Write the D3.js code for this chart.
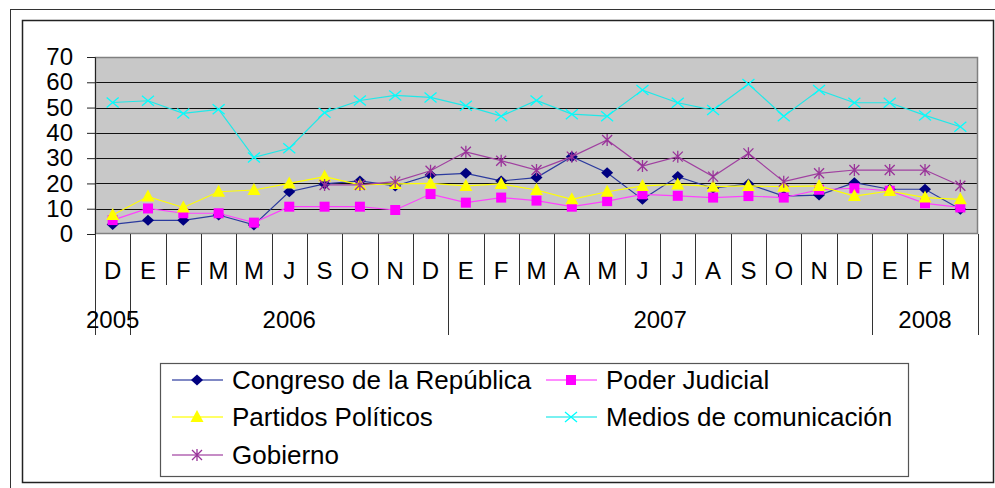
<!DOCTYPE html>
<html>
<head>
<meta charset="utf-8">
<script src="https://cdn.jsdelivr.net/npm/d3@7"></script>
<style>
  body { margin: 0; background: #fff; }
  text { font-family: "Liberation Sans", Arial, sans-serif; fill: #000; }
</style>
</head>
<body>
<script>
// ---- data ----
var months = ["D","E","F","M","M","J","S","O","N","D","E","F","M","A","M","J","J","A","S","O","N","D","E","F","M"];
var years  = ["2005","2006","2006","2006","2006","2006","2006","2006","2006","2006",
              "2007","2007","2007","2007","2007","2007","2007","2007","2007","2007","2007","2007",
              "2008","2008","2008"];
var yTicks = [0, 10, 20, 30, 40, 50, 60, 70];

var congreso = [3.8,5.4,5.4,7.5,3.6,16.7,19.8,21,19,23.3,24,21,22.3,30.6,24.2,13.7,22.7,18.1,19.8,15,15.4,20.3,17.7,17.7,9.8];
var poder    = [5.5,10.1,8.2,8.2,4.5,10.8,10.8,10.8,9.5,15.8,12.4,14.4,13.2,10.8,13,15.7,15.1,14.4,15,14.4,17.5,18.1,17.1,12.1,10.5];
var partidos = [7.5,14.8,10.5,16.7,17.4,20,22.7,19.4,19.8,20,19,19.8,17.4,13.7,16.7,19,19.6,18.7,19,18.7,19,15,17,14.4,13.7];
var medios   = [52,52.7,47.7,49.3,30.3,33.9,48,52.8,54.8,54,50.7,46.6,52.8,47.4,46.6,56.9,51.9,49,59.3,46.6,56.9,51.9,51.9,46.9,42.4];
var gobierno = [null,null,null,null,null,null,19.4,19.4,20.7,25,32.5,29,25.3,30.6,37.2,26.9,30.6,22.7,31.9,20.7,24,25.3,25.3,25.3,19.1];

var seriesNames = ["Congreso de la República","Poder Judicial","Partidos Políticos","Medios de comunicación","Gobierno"];

// ---- layout ----
var W = 995, H = 488;
var plot = {left: 95, right: 978, top: 57, bottom: 234};

var svg = d3.select("body").append("svg")
    .attr("width", W)
    .attr("height", H);

// outer frames
svg.append("rect")
    .attr("x", 10.5).attr("y", 9.5)
    .attr("width", 1000).attr("height", 500)
    .attr("fill", "none").attr("stroke", "#333").attr("stroke-width", 1);
svg.append("rect")
    .attr("x", 22.5).attr("y", 20.5)
    .attr("width", 971).attr("height", 462)
    .attr("fill", "#fff").attr("stroke", "#222").attr("stroke-width", 1.5);

var idx = d3.range(months.length);

var x = d3.scaleBand()
    .domain(idx)
    .range([plot.left, plot.right])
    .padding(0);

var y = d3.scaleLinear()
    .domain([0, 70])
    .range([plot.bottom, plot.top]);

function cx(i) { return x(i) + x.bandwidth() / 2; }

// plot background
svg.append("rect")
    .attr("x", plot.left).attr("y", plot.top)
    .attr("width", plot.right - plot.left)
    .attr("height", plot.bottom - plot.top)
    .attr("fill", "#c8c8c8");

// grid lines
svg.selectAll(".grid")
    .data(yTicks.filter(function(d) { return d > 0 && d < 70; }))
  .enter().append("line")
    .attr("class", "grid")
    .attr("x1", plot.left).attr("x2", plot.right)
    .attr("y1", function(d) { return Math.round(y(d)) + 0.5; })
    .attr("y2", function(d) { return Math.round(y(d)) + 0.5; })
    .attr("stroke", "#111").attr("stroke-width", 1);

// plot border
svg.append("rect")
    .attr("x", plot.left + 0.5).attr("y", plot.top + 0.5)
    .attr("width", plot.right - plot.left - 1)
    .attr("height", plot.bottom - plot.top - 1)
    .attr("fill", "none").attr("stroke", "#808080").attr("stroke-width", 1.5);

// y axis
var yAxis = svg.append("g")
    .attr("transform", "translate(" + plot.left + ",0)")
    .call(d3.axisLeft(y).tickValues(yTicks).tickSize(8).tickPadding(14));
yAxis.select(".domain").attr("stroke", "#222");
yAxis.selectAll(".tick line").attr("stroke", "#222");
yAxis.selectAll("text")
    .style("font-size", "24px")
    .style("font-family", "Liberation Sans, Arial, sans-serif")
    .attr("fill", "#000");

// x axis: month separators
var bounds = d3.range(months.length + 1);
svg.selectAll(".msep")
    .data(bounds)
  .enter().append("line")
    .attr("class", "msep")
    .attr("x1", function(i) { return Math.round(i < months.length ? x(i) : x(i - 1) + x.bandwidth()) + 0.5; })
    .attr("x2", function(i) { return Math.round(i < months.length ? x(i) : x(i - 1) + x.bandwidth()) + 0.5; })
    .attr("y1", plot.bottom)
    .attr("y2", function(i) {
        var isYear = i === 0 || i === months.length || years[i] !== years[i - 1];
        return isYear ? 335 : 285;
    })
    .attr("stroke", "#333").attr("stroke-width", 1);

svg.selectAll(".mlab")
    .data(idx)
  .enter().append("text")
    .attr("class", "mlab")
    .attr("x", function(i) { return cx(i); })
    .attr("y", 279)
    .attr("text-anchor", "middle")
    .style("font-size", "24px")
    .text(function(i) { return months[i]; });

// year labels, centred on their months
var yearGroups = d3.groups(idx, function(i) { return years[i]; });
svg.selectAll(".ylab")
    .data(yearGroups)
  .enter().append("text")
    .attr("class", "ylab")
    .attr("x", function(g) {
        var a = d3.min(g[1]), b = d3.max(g[1]);
        return (x(a) + x(b) + x.bandwidth()) / 2;
    })
    .attr("y", 328)
    .attr("text-anchor", "middle")
    .style("font-size", "24px")
    .text(function(g) { return g[0]; });

// ---- markers ----
function markerPath(type) {
    if (type === "diamond") return "M0,-5.5L6,0L0,5.5L-6,0Z";
    if (type === "square") return "M-5,-5H5V5H-5Z";
    if (type === "triangle") return "M0,-7L6.5,5L-6.5,5Z";
    if (type === "x") return "M-6,-5L6,5M-6,5L6,-5";
    if (type === "star") return "M-5,-5L5,5M-5,5L5,-5M0,-6V6";
    return "";
}

var series = [
    {name: seriesNames[0], values: congreso, color: "#000080", line: "#2b3a9e", marker: "diamond", filled: true},
    {name: seriesNames[1], values: poder,    color: "#ff00ff", line: "#ff40ff", marker: "square",  filled: true},
    {name: seriesNames[2], values: partidos, color: "#ffff00", line: "#ffff00", marker: "triangle", filled: true},
    {name: seriesNames[3], values: medios,   color: "#00ffff", line: "#20e8e8", marker: "x",       filled: false},
    {name: seriesNames[4], values: gobierno, color: "#993399", line: "#a040a0", marker: "star",    filled: false}
];

var line = d3.line()
    .defined(function(d) { return d != null; })
    .x(function(d, i) { return cx(i); })
    .y(function(d) { return y(d); });

series.forEach(function(s) {
    var g = svg.append("g");
    g.append("path")
        .datum(s.values)
        .attr("fill", "none")
        .attr("stroke", s.line)
        .attr("stroke-width", 1.2)
        .attr("d", line);
    g.selectAll("path.mk")
        .data(idx.filter(function(i) { return s.values[i] != null; }))
      .enter().append("path")
        .attr("class", "mk")
        .attr("transform", function(i) { return "translate(" + cx(i) + "," + y(s.values[i]) + ")"; })
        .attr("d", markerPath(s.marker))
        .attr("fill", s.filled ? s.color : "none")
        .attr("stroke", s.color)
        .attr("stroke-width", s.filled ? 0 : 1.3);
});

// ---- legend ----
svg.append("rect")
    .attr("x", 160.5).attr("y", 363.5)
    .attr("width", 748).attr("height", 113)
    .attr("fill", "#fff").attr("stroke", "#555").attr("stroke-width", 1.2);

var legendPos = [
    {x: 172, y: 380}, {x: 546, y: 380},
    {x: 172, y: 417}, {x: 546, y: 417},
    {x: 172, y: 455}
];

var lg = svg.selectAll(".lg")
    .data(series)
  .enter().append("g")
    .attr("class", "lg")
    .attr("transform", function(d, i) { return "translate(" + legendPos[i].x + "," + legendPos[i].y + ")"; });

lg.append("line")
    .attr("x1", 0).attr("x2", 51)
    .attr("y1", 0).attr("y2", 0)
    .attr("stroke", function(d) { return d.line; })
    .attr("stroke-width", 2)
    .attr("stroke-opacity", 0.6);
lg.append("path")
    .attr("transform", "translate(25,0)")
    .attr("d", function(d) { return markerPath(d.marker); })
    .attr("fill", function(d) { return d.filled ? d.color : "none"; })
    .attr("stroke", function(d) { return d.color; })
    .attr("stroke-width", function(d) { return d.filled ? 0 : 1.3; });
lg.append("text")
    .attr("x", 60)
    .attr("y", 9)
    .style("font-size", "26px")
    .text(function(d) { return d.name; });
</script>
</body>
</html>
